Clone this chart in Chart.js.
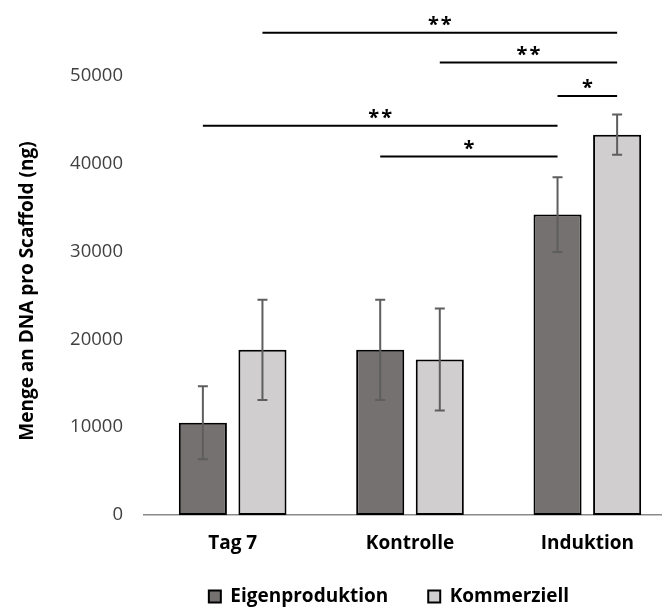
<!DOCTYPE html>
<html>
<head>
<meta charset="utf-8">
<script src="https://cdn.jsdelivr.net/npm/chart.js@4.4.1/dist/chart.umd.min.js"></script>
<style>
  html, body { margin: 0; padding: 0; background: #fff; overflow: hidden; }
  canvas { display: block; }
</style>
</head>
<body>
<canvas id="dnaChart" width="676" height="607"></canvas>
<script>
// values
const categories = ["Tag 7", "Kontrolle", "Induktion"];
const seriesNames = ["Eigenproduktion", "Kommerziell"];
const eigenValues = [10500, 18800, 34200];
const eigenErrors = [4150, 5700, 4250];
const kommValues = [18800, 17700, 43300];
const kommErrors = [5700, 5800, 2300];
const yTicks = [0, 10000, 20000, 30000, 40000, 50000];

// significance bars: start/end as [category, series], height, label
const sigStart = [[0, 1], [1, 1], [2, 0], [0, 0], [1, 0]];
const sigEnd = [[2, 1], [2, 1], [2, 1], [2, 0], [2, 0]];
const sigLevels = [54900, 51500, 47700, 44300, 40800];
const sigLabels = ["**", "**", "*", "**", "*"];

const FONT = "'Open Sans', sans-serif";

// error bars (+/- sd) on top of every bar
const errorBars = {
    id: "errorBars",
    afterDatasetsDraw(chart) {
        const ctx = chart.ctx;
        const y = chart.scales.y;
        ctx.save();
        ctx.strokeStyle = "#5e5e5e";
        ctx.lineWidth = 2;
        chart.data.datasets.forEach(function (ds, i) {
            chart.getDatasetMeta(i).data.forEach(function (bar, j) {
                const top = y.getPixelForValue(ds.data[j] + ds.errors[j]);
                const bot = y.getPixelForValue(ds.data[j] - ds.errors[j]);
                ctx.beginPath();
                ctx.moveTo(bar.x, top); ctx.lineTo(bar.x, bot);
                ctx.moveTo(bar.x - 5, top); ctx.lineTo(bar.x + 5, top);
                ctx.moveTo(bar.x - 5, bot); ctx.lineTo(bar.x + 5, bot);
                ctx.stroke();
            });
        });
        ctx.restore();
    }
};

// horizontal significance lines with stars
const sigBars = {
    id: "sigBars",
    afterDraw(chart) {
        const ctx = chart.ctx;
        const y = chart.scales.y;
        const barX = function (p) { return chart.getDatasetMeta(p[1]).data[p[0]].x; };
        ctx.save();
        ctx.strokeStyle = "#000";
        ctx.fillStyle = "#000";
        ctx.lineWidth = 2;
        ctx.font = "bold 20px " + FONT;
        ctx.letterSpacing = "2px";
        ctx.textAlign = "center";
        ctx.textBaseline = "alphabetic";
        const m = ctx.measureText("*");
        const mid = (m.actualBoundingBoxAscent - m.actualBoundingBoxDescent) / 2;
        sigLevels.forEach(function (lvl, k) {
            const x1 = barX(sigStart[k]);
            const x2 = barX(sigEnd[k]);
            const py = y.getPixelForValue(lvl);
            ctx.beginPath();
            ctx.moveTo(x1, py);
            ctx.lineTo(x2, py);
            ctx.stroke();
            ctx.fillText(sigLabels[k], (x1 + x2) / 2 + 1, py - 12 + mid);
        });
        ctx.restore();
    }
};

// legend sits right of the canvas centre and a little higher in the original
const legendOffset = {
    id: "legendOffset",
    afterLayout(chart) {
        const lg = chart.legend;
        lg.left += 51;
        lg.right += 51;
        lg.top -= 13;
    }
};

new Chart(document.getElementById("dnaChart"), {
    type: "bar",
    data: {
        labels: categories,
        datasets: [
            { label: seriesNames[0], data: eigenValues, errors: eigenErrors, backgroundColor: "#767171" },
            { label: seriesNames[1], data: kommValues, errors: kommErrors, backgroundColor: "#d0cece" }
        ]
    },
    options: {
        responsive: false,
        animation: false,
        layout: { padding: { top: 67, left: 0, right: 0, bottom: 0 } },
        datasets: {
            bar: {
                borderColor: "#000",
                borderWidth: 2,
                borderSkipped: false,
                categoryPercentage: 0.672,
                barPercentage: 0.807
            }
        },
        plugins: {
            legend: {
                position: "bottom",
                maxHeight: 47,
                labels: {
                    boxWidth: 12,
                    boxHeight: 12,
                    padding: 40,
                    color: "#000",
                    font: { family: FONT, size: 19, weight: "bold" }
                }
            },
            tooltip: { enabled: false }
        },
        scales: {
            x: {
                grid: { display: false, drawTicks: false },
                border: { color: "#8a8a8a", width: 1.5 },
                ticks: { padding: 17, color: "#000", font: { family: FONT, size: 19, weight: "bold" } },
                afterFit: function (s) { s.height = 45; }
            },
            y: {
                min: 0,
                max: 51000,
                grid: { display: false, drawTicks: false },
                border: { display: false },
                ticks: {
                    padding: 21,
                    color: "#404040",
                    includeBounds: false,
                    font: { family: FONT, size: 18.5 },
                    callback: function (v) { return String(v); }
                },
                afterBuildTicks: function (s) { s.ticks = yTicks.map(function (v) { return { value: v }; }); },
                title: {
                    display: true,
                    text: "Menge an DNA pro Scaffold (ng)",
                    color: "#000",
                    font: { family: FONT, size: 19, weight: "bold" },
                    padding: { top: 16, bottom: 0 }
                },
                afterFit: function (s) { s.width = 144; }
            }
        }
    },
    plugins: [errorBars, sigBars, legendOffset]
});
</script>
</body>
</html>
